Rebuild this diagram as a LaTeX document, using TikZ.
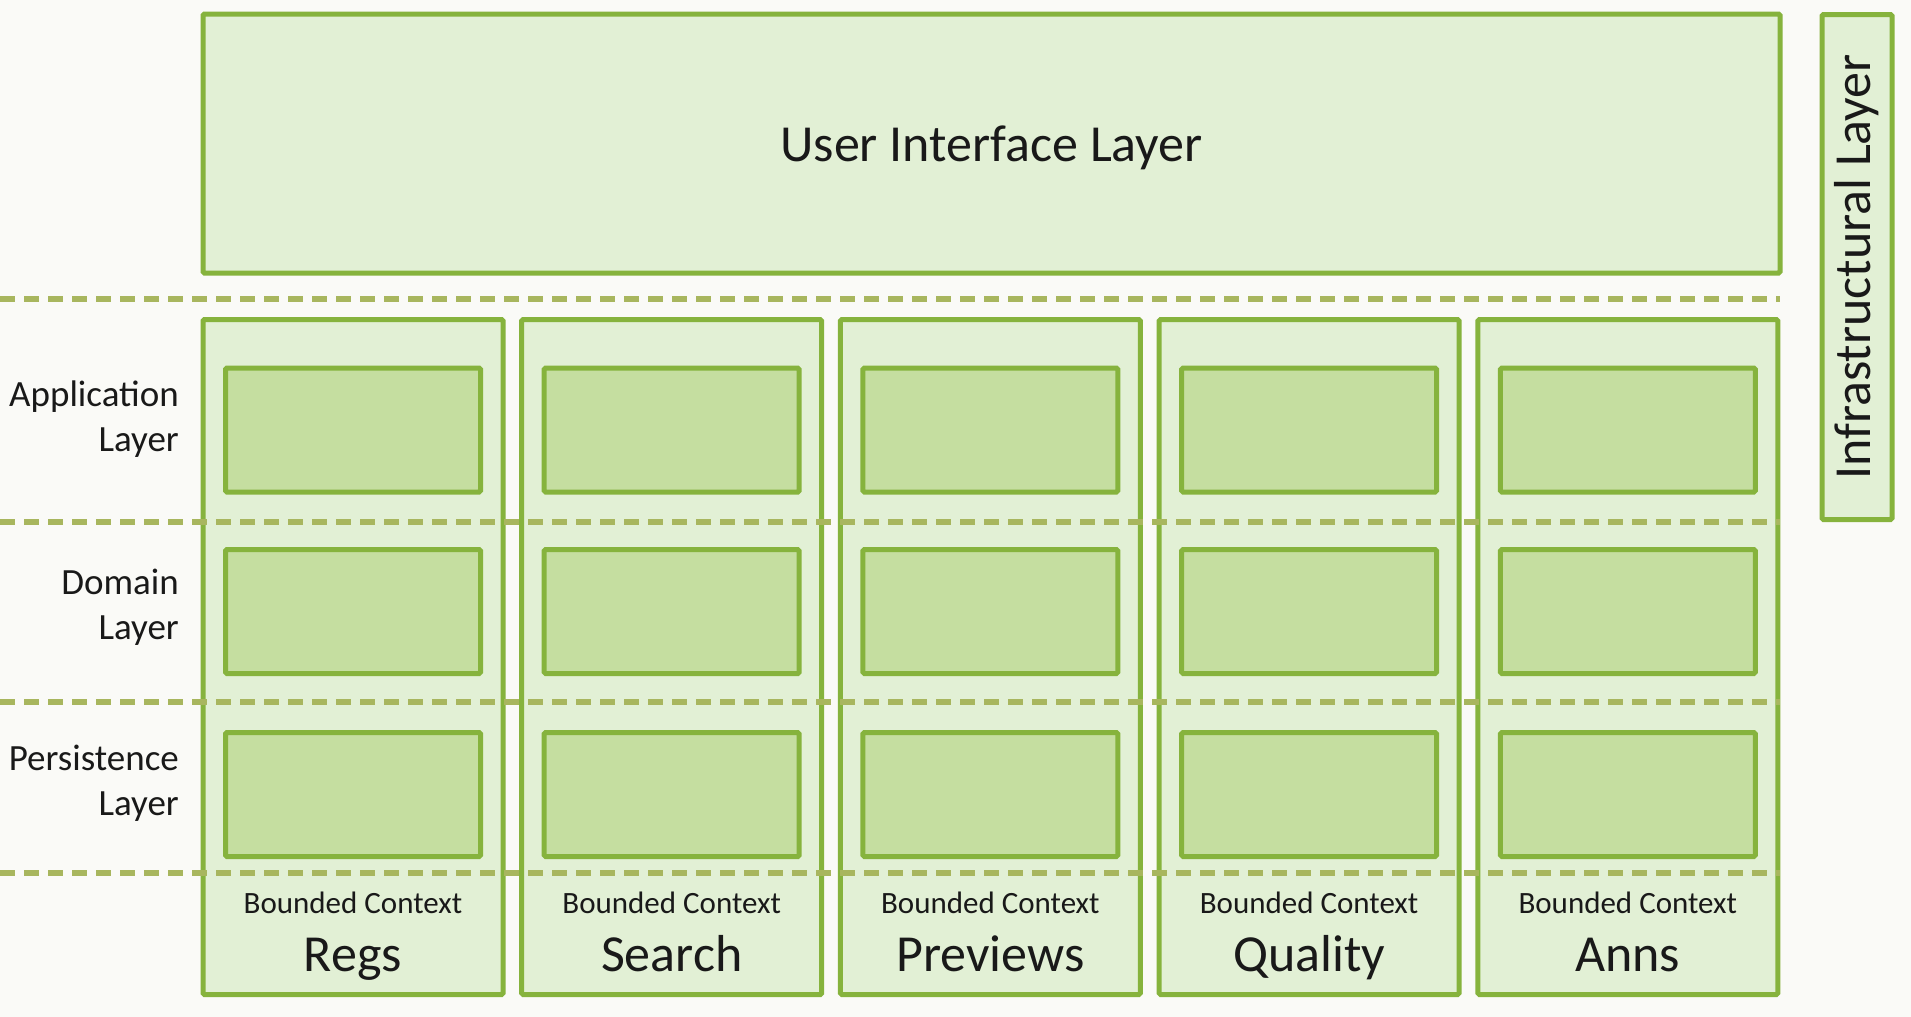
\documentclass[tikz,border=0pt]{standalone}
\usepackage{fontspec}
\setmainfont{Carlito}
\definecolor{bg}{HTML}{FAFAF7}
\definecolor{edge}{HTML}{86B33D}
\definecolor{paleg}{HTML}{E2F0D5}
\definecolor{midg}{HTML}{C5DEA0}
\definecolor{rule}{HTML}{A8B65E}
\begin{document}
\begin{tikzpicture}[x=1pt,y=-1pt,
  layerbox/.style={draw=edge, fill=paleg, line width=5pt, rounded corners=1.5pt, inner sep=0pt},
  slot/.style={draw=edge, fill=midg, line width=5pt, rounded corners=1.5pt, inner sep=0pt,
               minimum width=255pt, minimum height=124pt},
  sep/.style={draw=rule, line width=5.5pt, dash pattern=on 15pt off 9pt},
  bigtext/.style={font=\fontsize{52}{62}\selectfont, inner sep=0pt, text=black!90},
  sidetext/.style={font=\fontsize{37}{45}\selectfont, align=right, anchor=east, inner sep=0pt, text=black!90},
  smalltext/.style={font=\fontsize{31}{37}\selectfont, inner sep=0pt, anchor=base, text=black!90}]
  % canvas
  \fill[bg] (0,0) rectangle (1911,1017);
  \useasboundingbox (0,0) rectangle (1911,1017);

  % user interface layer across the top
  \node[layerbox, minimum width=1577pt, minimum height=259pt] (ui) at (991.5,143.5) {};
  \node[bigtext, anchor=base] (uilabel) at (991.5,161) {User Interface Layer};

  % infrastructural layer on the right
  \node[layerbox, minimum width=70pt, minimum height=505pt] (infra) at (1857,267) {};
  \node[bigtext, rotate=90] (infralabel) at (infra.center) {Infrastructural Layer};

  % bounded-context columns with their three layer slots
  \foreach \i/\name in {0/Regs,1/Search,2/Previews,3/Quality,4/Anns}{
    \pgfmathsetmacro{\cx}{353+\i*318.7}
    \node[layerbox, minimum width=300pt, minimum height=675pt] (col\i) at (\cx,657) {};
    \node[slot] (app\i) at (\cx,430) {};
    \node[slot] (dom\i) at (\cx,611.5) {};
    \node[slot] (per\i) at (\cx,794.5) {};
    \node[smalltext] (bc\i) at (\cx,913) {Bounded Context};
    \node[bigtext, anchor=base] (name\i) at (\cx,971) {\name};
  }

  % layer separators
  \foreach \y/\n in {299/a,522/b,702/c,873/d}{
    \coordinate (sepL\n) at (0,\y);
    \coordinate (sepR\n) at (1780,\y);
    \draw[sep] (sepL\n) -- (sepR\n);
  }

  % layer names on the left
  \node[sidetext] (lapp) at (179,419) {Application\\Layer};
  \node[sidetext] (ldom) at (179,607.5) {Domain\\Layer};
  \node[sidetext] (lper) at (179,783) {Persistence\\Layer};
\end{tikzpicture}
\end{document}
